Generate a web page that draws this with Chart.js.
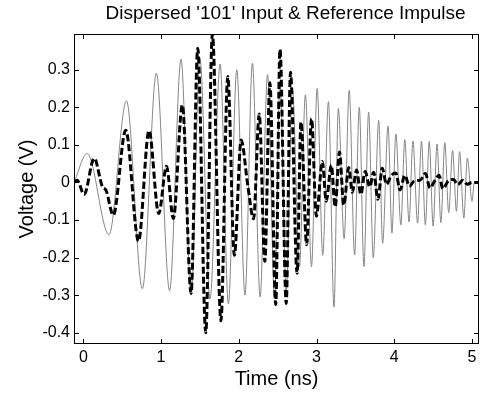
<!DOCTYPE html>
<html>
<head>
<meta charset="utf-8">
<script src="https://cdn.jsdelivr.net/npm/chart.js"></script>
<style>
  body { margin: 0; background: #fff; }
</style>
</head>
<body>
<canvas id="myChart" width="482" height="394"></canvas>
<script>
// dispersed '101' input (dashed)
const inputTime = [-0.12, -0.08, 0.01, 0.14, 0.245, 0.29, 0.386, 0.545, 0.71, 0.845, 0.97, 1.07, 1.158,
  1.274, 1.386, 1.472, 1.575, 1.66, 1.77, 1.858, 1.943, 2.03, 2.115, 2.19, 2.263, 2.335, 2.40, 2.475,
  2.53, 2.61, 2.665, 2.75, 2.80, 2.873, 2.935, 2.998, 3.075, 3.125, 3.19, 3.24, 3.295, 3.35, 3.415,
  3.46, 3.515, 3.57, 3.625, 3.685, 3.735, 3.79, 3.845, 3.90, 3.96, 4.02, 4.075, 4.135, 4.195, 4.26,
  4.335, 4.40, 4.46, 4.52, 4.575, 4.625, 4.69, 4.76, 4.82, 4.88, 4.94, 5.0, 5.09]
const inputVolt = [0.0, 0.006, -0.032, 0.064, -0.011, -0.02, -0.087, 0.139, -0.156, 0.138, -0.083, 0.043, -0.096,
  0.206, -0.295, 0.357, -0.40, 0.395, -0.368, 0.282, -0.194, 0.113, -0.007, -0.097, 0.182, -0.21, 0.265, -0.325,
  0.354, -0.322, 0.293, -0.242, 0.161, -0.166, 0.17, -0.09, 0.056, -0.05, 0.046, -0.065, 0.081, -0.06, 0.04,
  -0.026, 0.033, -0.032, 0.029, -0.012, 0.027, -0.045, 0.038, -0.005, 0.018, 0.025, -0.02, 0.019, -0.01, 0.004,
  0.006, 0.024, -0.015, 0.004, 0.019, -0.017, 0.003, 0.008, -0.006, 0.006, -0.005, 0.0, 0.0]

// reference impulse (thin grey), peaks and troughs
const refTime = [-0.12, 0.05, 0.33, 0.555, 0.76, 0.94, 1.11, 1.257, 1.386, 1.50, 1.63, 1.76, 1.866, 1.974,
  2.08, 2.175, 2.274, 2.37, 2.46, 2.53, 2.61, 2.69, 2.78, 2.857, 2.935, 3.008, 3.08, 3.153, 3.225, 3.28,
  3.355, 3.42, 3.49, 3.55, 3.61, 3.67, 3.73, 3.80, 3.85, 3.92, 3.97, 4.02, 4.085, 4.135, 4.19, 4.24, 4.30,
  4.35, 4.40, 4.45, 4.50, 4.55, 4.60, 4.65, 4.70, 4.75, 4.80, 4.84, 4.895, 4.94, 5.0, 5.03, 5.09]
const refVolt = [0.0, 0.077, -0.139, 0.217, -0.283, 0.291, -0.288, 0.328, -0.30, 0.33, -0.31, 0.315, -0.323, 0.30,
  -0.30, 0.317, -0.305, 0.287, -0.31, 0.27, -0.29, 0.25, -0.225, 0.233, -0.224, 0.25, -0.194, 0.215, -0.332, 0.197,
  -0.15, 0.245, -0.193, 0.20, -0.224, 0.187, -0.20, 0.165, -0.162, 0.15, -0.135, 0.129, -0.113, 0.114, -0.105, 0.11, -0.108,
  0.11, -0.113, 0.109, -0.116, 0.102, -0.107, 0.106, -0.08, 0.085, -0.077, 0.082, -0.095, 0.065, -0.05, 0.0, 0.0]

const xTicks = [0, 1, 2, 3, 4, 5]
const yTicks = [-0.4, -0.3, -0.2, -0.1, 0, 0.1, 0.2, 0.3]

const chartTitle = "Dispersed '101' Input & Reference Impulse"
const FONT = 'Liberation Sans, Arial, Helvetica, sans-serif'

const toPoints = (xs, ys) => xs.map((x, i) => ({ x: x, y: ys[i] }))

// matlab style box with inward ticks, title over the axes
const boxPlugin = {
  id: 'box',
  afterDraw(chart) {
    const { ctx, chartArea: a, scales } = chart
    const len = 5
    ctx.save()
    ctx.strokeStyle = '#000'
    ctx.lineWidth = 1
    ctx.strokeRect(a.left + 0.5, a.top + 0.5, a.right - a.left - 1, a.bottom - a.top - 1)
    ctx.beginPath()
    xTicks.forEach(v => {
      const px = Math.round(scales.x.getPixelForValue(v)) + 0.5
      ctx.moveTo(px, a.bottom); ctx.lineTo(px, a.bottom - len)
      ctx.moveTo(px, a.top); ctx.lineTo(px, a.top + len)
    })
    yTicks.forEach(v => {
      const py = Math.round(scales.y.getPixelForValue(v)) + 0.5
      ctx.moveTo(a.left, py); ctx.lineTo(a.left + len, py)
      ctx.moveTo(a.right, py); ctx.lineTo(a.right - len, py)
    })
    ctx.stroke()

    ctx.fillStyle = '#000'
    ctx.font = '19px ' + FONT
    ctx.textAlign = 'center'
    ctx.textBaseline = 'middle'
    ctx.fillText(chartTitle, (a.left + a.right) / 2 + 9, 14)
    ctx.restore()
  }
}

const ctx = document.getElementById('myChart')
new Chart(ctx, {
  type: 'scatter',
  data: {
    datasets: [
      {
        label: "Dispersed '101' Input",
        data: toPoints(inputTime, inputVolt),
        showLine: true,
        borderColor: '#000',
        borderWidth: 3,
        borderDash: [7, 3],
        pointRadius: 0,
        cubicInterpolationMode: 'monotone'
      },
      {
        label: 'Reference Impulse',
        data: toPoints(refTime, refVolt),
        showLine: true,
        borderColor: '#858585',
        borderWidth: 1,
        pointRadius: 0,
        cubicInterpolationMode: 'monotone'
      }
    ]
  },
  options: {
    responsive: false,
    animation: false,
    layout: { padding: { left: 0, right: 3, top: 34, bottom: 0 } },
    plugins: {
      legend: { display: false },
      tooltip: { enabled: false },
      title: { display: false }
    },
    scales: {
      x: {
        type: 'linear',
        min: -0.12,
        max: 5.09,
        afterBuildTicks: s => { s.ticks = xTicks.map(v => ({ value: v })) },
        afterFit: s => { s.height = 50 },
        grid: { display: false, drawTicks: false },
        border: { display: false },
        ticks: { color: '#000', font: { family: FONT, size: 16 }, padding: 4, maxRotation: 0, autoSkip: false },
        title: { display: true, text: 'Time (ns)', color: '#000', font: { family: FONT, size: 20 }, padding: { top: 0, bottom: 3 } }
      },
      y: {
        type: 'linear',
        min: -0.43,
        max: 0.395,
        afterBuildTicks: s => { s.ticks = yTicks.map(v => ({ value: v })) },
        afterFit: s => { s.width = 74 },
        grid: { display: false, drawTicks: false },
        border: { display: false },
        ticks: {
          color: '#000', font: { family: FONT, size: 16 }, padding: 4, autoSkip: false,
          callback: v => v === 0 ? '0' : v.toFixed(1)
        },
        title: { display: true, text: 'Voltage (V)', color: '#000', font: { family: FONT, size: 20 }, padding: { top: 15, bottom: 0 } }
      }
    }
  },
  plugins: [boxPlugin]
})
</script>
</body>
</html>
